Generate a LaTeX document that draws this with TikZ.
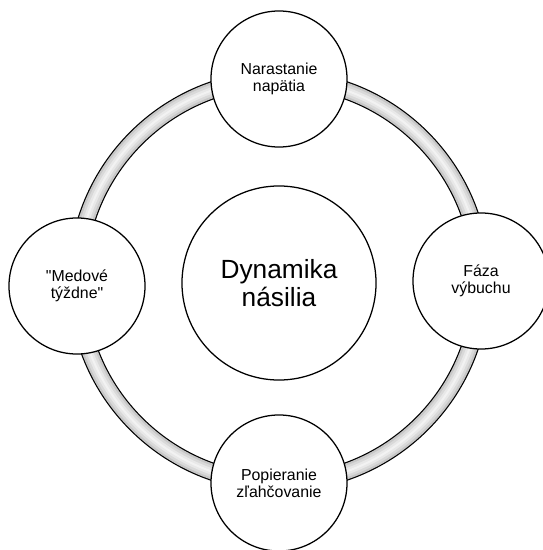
\documentclass[tikz,border=0pt]{standalone}
\usepackage{fontspec}
\setmainfont{Liberation Sans}[Ligatures=TeXOff]
\usetikzlibrary{shapes.geometric}

\tikzset{
    phase/.style={circle, draw, line width=0.9pt, fill=white, minimum size=3.4cm, inner sep=0pt, align=center, font=\fontsize{11.3}{12}\selectfont},
    hub/.style={circle, draw, line width=0.9pt, fill=white, minimum size=4.85cm, inner sep=0pt, align=center, font=\fontsize{18.7}{19.5}\selectfont}
}

\begin{document}
\begin{tikzpicture}[x=0.025cm, y=-0.025cm]
    \useasboundingbox (0,0) rectangle (543,550);
    \def\cx{279};
    \def\cy{281};
    \def\R{202};
    % ring
    \draw[line width=0.45cm, black] (\cx,\cy) circle (\R);
    \draw[line width=0.39cm, black!22] (\cx,\cy) circle (\R);
    \draw[line width=0.28cm, black!15] (\cx,\cy) circle (\R);
    \draw[line width=0.16cm, black!9] (\cx,\cy) circle (\R);
    \draw[line width=0.05cm, black!5] (\cx,\cy) circle (\R);
    % phases
    \node[hub] at (\cx, \cy+2) (Dyn) {Dynamika\\násilia};
    \node[phase] at (\cx, \cy-\R) (Nar) {Narastanie\\napätia};
    \node[phase] at (\cx+\R, \cy) (Faz) {Fáza\\výbuchu};
    \node[phase] at (\cx, \cy+\R) (Pop) {Popieranie\\zľahčovanie};
    \node[phase] at (\cx-\R, \cy+5) (Med) {"Medové\\týždne"};
\end{tikzpicture}
\end{document}
